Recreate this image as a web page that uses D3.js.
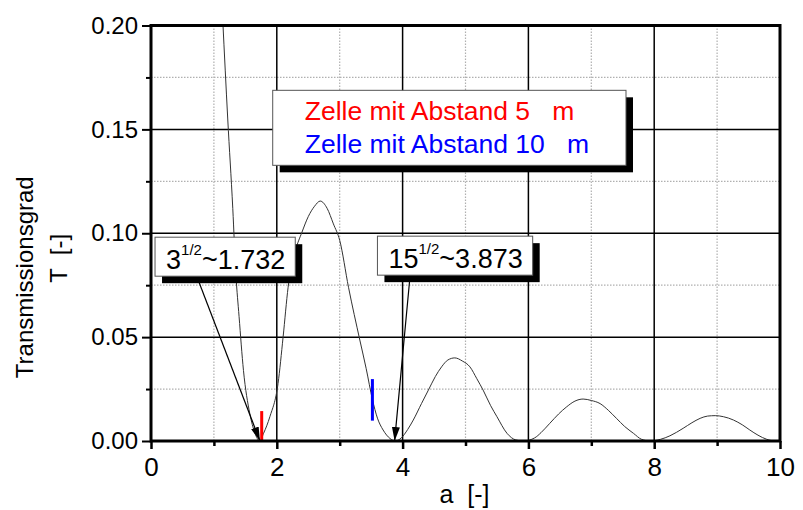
<!DOCTYPE html>
<html>
<head>
<meta charset="utf-8">
<script src="https://cdn.jsdelivr.net/npm/d3@7"></script>
<style>
	body { margin: 0; background: #fff; }
	svg { display: block; font-family: "Liberation Sans", Arial, sans-serif; }
</style>
</head>
<body>
<svg id="chart" width="803" height="510"></svg>
<script>
// transmission curve
var aVals = [1.14, 1.22, 1.30, 1.35, 1.40, 1.47, 1.57, 1.65, 1.73, 1.79, 1.89, 2.02, 2.10, 2.18, 2.30, 2.40, 2.50, 2.60, 2.69, 2.80, 2.90, 3.00, 3.14, 3.32, 3.42, 3.52, 3.60, 3.69, 3.80, 3.88, 3.98, 4.08, 4.17, 4.30, 4.41, 4.52, 4.62, 4.72, 4.83, 4.95, 5.07, 5.18, 5.28, 5.40, 5.50, 5.66, 5.80, 5.92, 6.10, 6.20, 6.34, 6.48, 6.61, 6.74, 6.87, 7.00, 7.14, 7.27, 7.40, 7.53, 7.67, 7.80, 7.94, 8.10, 8.25, 8.46, 8.60, 8.73, 8.85, 8.97, 9.10, 9.26, 9.40, 9.52, 9.65, 9.79, 9.93, 10.0];
var tVals = [0.203, 0.155, 0.112, 0.080, 0.060, 0.034, 0.0133, 0.004, 0.000, 0.0037, 0.0117, 0.0277, 0.050, 0.074, 0.092, 0.1005, 0.108, 0.113, 0.1155, 0.112, 0.1045, 0.0966, 0.074, 0.0486, 0.035, 0.020, 0.011, 0.0053, 0.0012, 0.000, 0.0015, 0.0055, 0.0101, 0.018, 0.0245, 0.031, 0.0357, 0.039, 0.0400, 0.0385, 0.0357, 0.030, 0.0245, 0.017, 0.0117, 0.0037, 0.0005, 0.000, 0.0015, 0.0040, 0.0085, 0.0130, 0.0165, 0.0192, 0.0202, 0.0195, 0.0180, 0.0148, 0.0109, 0.0070, 0.0037, 0.0008, 0.000, 0.0008, 0.0025, 0.0061, 0.0088, 0.0109, 0.0120, 0.0122, 0.0117, 0.0101, 0.0078, 0.0053, 0.0028, 0.0008, 0.0000, 0.0003];

var xTicks = [0, 2, 4, 6, 8, 10];
var xMinor = [1, 3, 5, 7, 9];
var yTicks = [0.00, 0.05, 0.10, 0.15, 0.20];
var yMinor = [0.025, 0.075, 0.125, 0.175];

var legendLabels = ["Zelle mit Abstand 5   m", "Zelle mit Abstand 10   m"];
var legendColors = ["#ff0000", "#0000ff"];

// coloured bars
var barA = [1.76, 3.52];
var barLo = [0.0, 0.0098];
var barHi = [0.0144, 0.0298];

// annotations: base, exponent, value, tip, box corner, arrow start
var noteBase = ["3", "15"];
var noteExp = ["1/2", "1/2"];
var noteValue = ["~1.732", "~3.873"];
var noteTipA = [1.732, 3.873];
var noteBoxA = [0.064, 3.60];
var noteBoxT = [0.0981, 0.0986];
var noteFromA = [0.727, 4.118];
var noteFromT = [0.0793, 0.0793];

var svg = d3.select("#chart");
var width = 803, height = 510;
var margin = {top: 25.5, right: 23, bottom: 69, left: 151};

var x = d3.scaleLinear().domain([0, 10]).range([margin.left, width - margin.right]);
var y = d3.scaleLinear().domain([0, 0.20]).range([height - margin.bottom, margin.top]);

svg.append("defs").append("clipPath").attr("id", "plotClip")
	.append("rect")
	.attr("x", x(0)).attr("y", y(0.20))
	.attr("width", x(10) - x(0)).attr("height", y(0) - y(0.20));

svg.select("defs").append("marker")
	.attr("id", "arrowHead")
	.attr("markerUnits", "userSpaceOnUse")
	.attr("viewBox", "0 0 14 8")
	.attr("refX", 14).attr("refY", 4)
	.attr("markerWidth", 14).attr("markerHeight", 8)
	.attr("orient", "auto")
	.append("path")
	.attr("d", "M0,0L14,4L0,8Z")
	.style("fill", "#000");

// minor grid (dotted)
var grid = svg.append("g");
grid.selectAll(".vMinor").data(xMinor).enter().append("line")
	.attr("x1", (d) => x(d)).attr("x2", (d) => x(d))
	.attr("y1", y(0)).attr("y2", y(0.20))
	.style("stroke", "#b0b0b0").style("stroke-width", 1.2).style("stroke-dasharray", "1.5,1.5");
grid.selectAll(".hMinor").data(yMinor).enter().append("line")
	.attr("y1", (d) => y(d)).attr("y2", (d) => y(d))
	.attr("x1", x(0)).attr("x2", x(10))
	.style("stroke", "#b0b0b0").style("stroke-width", 1.2).style("stroke-dasharray", "1.5,1.5");

// major grid (solid)
grid.selectAll(".vMajor").data(xTicks.slice(1, -1)).enter().append("line")
	.attr("x1", (d) => x(d)).attr("x2", (d) => x(d))
	.attr("y1", y(0)).attr("y2", y(0.20))
	.style("stroke", "#000").style("stroke-width", 1.5);
grid.selectAll(".hMajor").data(yTicks.slice(1, -1)).enter().append("line")
	.attr("y1", (d) => y(d)).attr("y2", (d) => y(d))
	.attr("x1", x(0)).attr("x2", x(10))
	.style("stroke", "#000").style("stroke-width", 1.5);

// curve
var line = d3.line()
	.x((d) => x(d[0]))
	.y((d) => y(d[1]))
	.curve(d3.curveMonotoneX);

svg.append("path")
	.datum(d3.zip(aVals, tVals))
	.attr("clip-path", "url(#plotClip)")
	.attr("d", line)
	.style("fill", "none")
	.style("stroke", "#333")
	.style("stroke-width", 1);

// coloured bars
svg.selectAll(".bar").data(barA).enter().append("line")
	.attr("x1", (d) => x(d)).attr("x2", (d) => x(d))
	.attr("y1", (d, i) => y(barLo[i])).attr("y2", (d, i) => y(barHi[i]))
	.style("stroke", (d, i) => legendColors[i])
	.style("stroke-width", 3);

// axes
var xAxis = d3.axisBottom(x).tickValues(xTicks).tickSize(8).tickFormat(d3.format("d"));
var gx = svg.append("g").attr("transform", "translate(0," + y(0) + ")").call(xAxis);
gx.select(".domain").remove();
gx.selectAll(".tick line").style("stroke-width", 2.5);
gx.selectAll(".tick text").attr("dy", "0.92em").style("font-size", "26px").style("fill", "#000");
svg.append("g").attr("transform", "translate(0," + y(0) + ")")
	.call(d3.axisBottom(x).tickValues(xMinor).tickSize(5).tickFormat(""))
	.call((g) => g.select(".domain").remove())
	.selectAll(".tick line").style("stroke-width", 2.5);

var yAxis = d3.axisLeft(y).tickValues(yTicks).tickSize(9).tickFormat(d3.format(".2f"));
var gy = svg.append("g").attr("transform", "translate(" + x(0) + ",0)").call(yAxis);
gy.select(".domain").remove();
gy.selectAll(".tick line").style("stroke-width", 2);
gy.selectAll(".tick text").attr("x", -13).style("font-size", "24px").style("fill", "#000");
svg.append("g").attr("transform", "translate(" + x(0) + ",0)")
	.call(d3.axisLeft(y).tickValues(yMinor).tickSize(5).tickFormat(""))
	.call((g) => g.select(".domain").remove())
	.selectAll(".tick line").style("stroke-width", 2);

// frame
svg.append("rect")
	.attr("x", x(0)).attr("y", y(0.20))
	.attr("width", x(10) - x(0)).attr("height", y(0) - y(0.20))
	.style("fill", "none").style("stroke", "#000").style("stroke-width", 3);

// axis titles
svg.append("text")
	.attr("x", (x(0) + x(10)) / 2 - 1).attr("y", 503)
	.attr("text-anchor", "middle")
	.style("font-size", "25px").style("white-space", "pre")
	.text("a  [-]");

var yTitle = svg.append("text")
	.attr("transform", "translate(33," + ((y(0) + y(0.20)) / 2 + 44) + ") rotate(-90)")
	.attr("text-anchor", "middle")
	.style("font-size", "24px").style("white-space", "pre");
yTitle.append("tspan").attr("x", 0).attr("y", 0).text("Transmissionsgrad");
yTitle.append("tspan").attr("x", 19).attr("y", 34).text("T  [-]");

// legend with drop shadow
var legend = svg.append("g");
var legendText = legend.append("g");
legendText.selectAll("text").data(legendLabels).enter().append("text")
	.attr("x", x(1.935) + 32)
	.attr("y", (d, i) => y(0.1688) + 30 + i * 32.7)
	.style("font-size", "26.5px").style("white-space", "pre")
	.style("fill", (d, i) => legendColors[i])
	.text((d) => d);
var lb = legendText.node().getBBox();
var lx = x(1.935), ly = y(0.1688), lw = lb.x + lb.width + 37 - lx, lh = 75;
legend.insert("rect", ":first-child")
	.attr("x", lx).attr("y", ly).attr("width", lw).attr("height", lh)
	.style("fill", "#fff").style("stroke", "#555").style("stroke-width", 1);
legend.insert("rect", ":first-child")
	.attr("x", lx + 7).attr("y", ly + 7).attr("width", lw).attr("height", lh)
	.style("fill", "#000");

// annotation arrows
svg.selectAll(".noteArrow").data(noteTipA).enter().append("line")
	.attr("x1", (d, i) => x(noteFromA[i])).attr("y1", (d, i) => y(noteFromT[i]))
	.attr("x2", (d) => x(d)).attr("y2", y(0))
	.attr("marker-end", "url(#arrowHead)")
	.style("stroke", "#000").style("stroke-width", 1.2);

// annotation boxes
noteBase.forEach((base, i) => {
	var g = svg.append("g");
	var bx = x(noteBoxA[i]), by = y(noteBoxT[i]);
	var t = g.append("text")
		.attr("x", bx + 11).attr("y", by + 31.5)
		.style("font-size", "27px");
	t.append("tspan").text(base);
	t.append("tspan").attr("dy", -14).style("font-size", "15px").text(noteExp[i]);
	t.append("tspan").attr("dy", 14).text(noteValue[i]);
	var bb = t.node().getBBox();
	var bw = bb.x + bb.width + 10 - bx, bh = 39;
	g.insert("rect", ":first-child")
		.attr("x", bx).attr("y", by).attr("width", bw).attr("height", bh)
		.style("fill", "#fff").style("stroke", "#555").style("stroke-width", 1);
	g.insert("rect", ":first-child")
		.attr("x", bx + 7).attr("y", by + 7).attr("width", bw).attr("height", bh)
		.style("fill", "#000");
});
</script>
</body>
</html>
